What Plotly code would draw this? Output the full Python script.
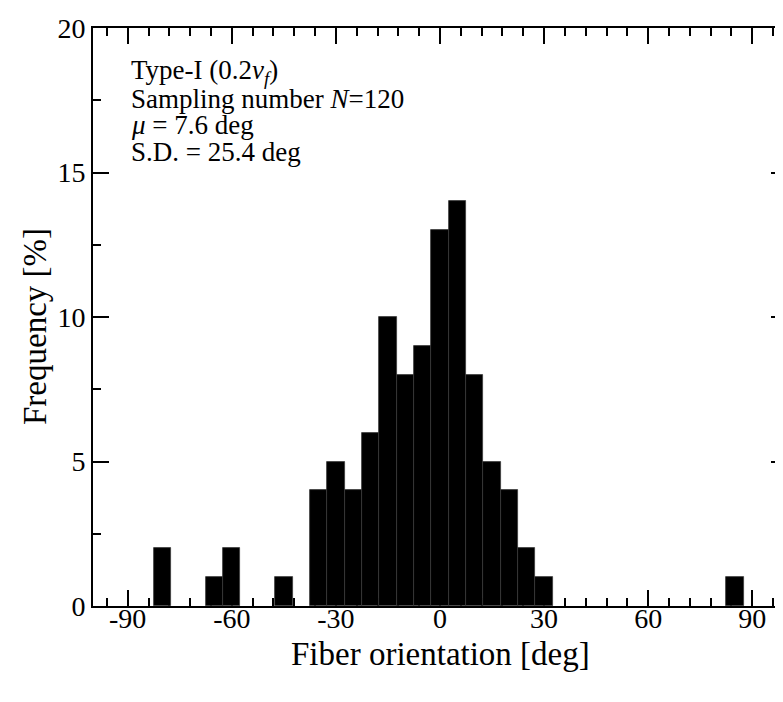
import plotly.graph_objects as go

# ---- data ----
bin_centers = [-80, -65, -60, -45, -35, -30, -25, -20, -15, -10, -5, 0, 5, 10, 15, 20, 25, 30, 85]
frequency = [2, 1, 2, 1, 4, 5, 4, 6, 10, 8, 9, 13, 14, 8, 5, 4, 2, 1, 1]
bin_width = 5
x_ticks = [-90, -60, -30, 0, 30, 60, 90]
x_ticklabels = ["-90", "-60", "-30", "0", "30", "60", "90"]
y_ticks = [0, 5, 10, 15, 20]
x_title = "Fiber orientation [deg]"
y_title = "Frequency [%]"
info_lines = [
    "Type-I (0.2<i>v</i><sub><i>f</i></sub>)",
    "Sampling number <i>N</i>=120",
    "<i>μ</i> = 7.6 deg",
    "S.D. = 25.4 deg",
]

FONT = "Liberation Serif"
W, H = 783, 702
ML, MR, MT, MB = 85, 4, 20, 104
plot_w = W - ML - MR
plot_h = H - MT - MB

fig = go.Figure()
fig.add_bar(
    x=bin_centers, y=frequency, width=bin_width,
    marker=dict(color="black", line=dict(color="#3a3a3a", width=0.8)),
    showlegend=False, hoverinfo="skip",
)

axis_common = dict(showgrid=False, zeroline=False, ticks="inside", tickcolor="black",
                   tickwidth=2, ticklen=16, showline=True, linecolor="black", linewidth=2,
                   mirror="allticks",
                   tickfont=dict(family=FONT, size=28, color="black"))

fig.update_layout(
    width=W, height=H,
    margin=dict(l=ML, r=MR, t=MT, b=MB, autoexpand=False),
    paper_bgcolor="white", plot_bgcolor="white",
    font=dict(family=FONT, color="black"),
    bargap=0,
    xaxis=dict(
        range=[-100, 100], tickvals=x_ticks, ticktext=x_ticklabels,
        layer="below traces", ticklabelstandoff=-14,
        minor=dict(tick0=0, dtick=6, ticks="inside", ticklen=8, tickwidth=2, tickcolor="black"),
        **axis_common,
    ),
    yaxis=dict(
        range=[0, 20], tickvals=y_ticks,
        minor=dict(tick0=0, dtick=2.5, ticks="inside", ticklen=8, tickwidth=2, tickcolor="black"),
        **axis_common,
    ),
)

# axis titles (figure-pixel placement)
fig.add_annotation(text=x_title, xref="paper", yref="paper",
                   x=0.5, y=(H - MB - 646) / plot_h, xanchor="center", yanchor="middle",
                   showarrow=False, font=dict(family=FONT, size=33, color="black"))
fig.add_annotation(text=y_title, xref="paper", yref="paper", textangle=-90,
                   x=(27 - ML) / plot_w, y=(H - MB - 319) / plot_h,
                   xanchor="center", yanchor="middle",
                   showarrow=False, font=dict(family=FONT, size=33, color="black"))

line_centers_px = [64, 91, 117, 144]  # figure pixels from top
for txt, ypx in zip(info_lines, line_centers_px):
    fig.add_annotation(
        text=txt, xref="paper", yref="paper",
        x=(121 - ML) / plot_w, y=(H - MB - ypx) / plot_h,
        xanchor="left", yanchor="middle", showarrow=False,
        font=dict(family=FONT, size=27, color="black"),
    )

fig.write_html("out.html")
